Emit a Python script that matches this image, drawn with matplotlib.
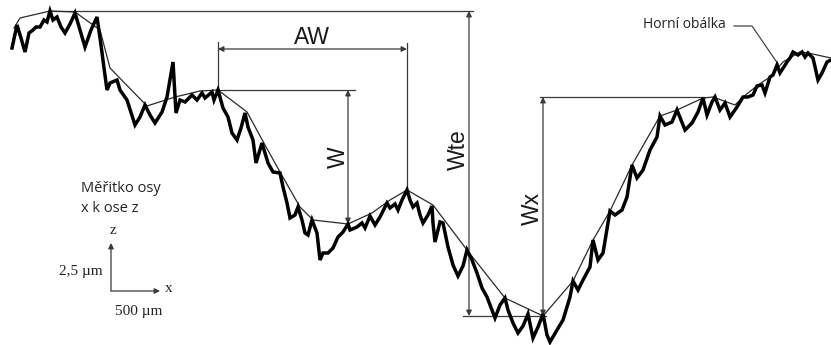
import matplotlib
matplotlib.use("Agg")
import matplotlib.pyplot as plt

# Measured surface profile (x along the trace, z as depth below the top of the sheet)
profile_x = [12, 17, 21, 25, 29, 33, 36, 40, 44, 47, 50, 53, 57, 61, 65, 70, 75, 80, 85, 91,
             97, 101, 104, 107, 110, 117, 120, 127, 135, 140, 145, 150, 155, 162, 167, 173, 176,
             180, 185, 192, 197, 202, 205, 212, 214, 218, 223, 228, 232, 237, 241, 245, 248, 253,
             256, 262, 268, 273, 280, 283, 287, 290, 295, 298, 302, 305, 308, 312, 317, 320, 323,
             328, 333, 338, 343, 348, 350, 357, 362, 365, 370, 375, 380, 387, 390, 395, 398, 402,
             407, 410, 413, 417, 420, 423, 428, 432, 433, 435, 440, 443, 448, 453, 458, 463, 467,
             472, 477, 482, 487, 492, 495, 500, 505, 508, 513, 518, 523, 528, 533, 538, 543, 547,
             550, 557, 563, 570, 573, 578, 583, 590, 593, 598, 603, 610, 615, 622, 627, 632, 637,
             643, 650, 657, 660, 665, 672, 677, 685, 692, 698, 703, 707, 712, 715, 720, 725, 730,
             737, 743, 748, 753, 757, 762, 765, 770, 773, 777, 780, 787, 790, 793, 798, 802, 805,
             808, 813, 818, 822, 827, 831]
profile_z = [48, 25, 38, 52, 33, 30, 27, 27, 20, 22, 11, 20, 17, 27, 33, 24, 13, 30, 47, 30,
             17, 45, 68, 90, 83, 80, 90, 100, 125, 117, 105, 115, 123, 112, 97, 62, 113,
             100, 102, 95, 100, 93, 98, 92, 100, 90, 108, 117, 133, 140, 128, 113, 127, 140,
             163, 143, 163, 172, 173, 187, 203, 218, 215, 207, 220, 233, 235, 220, 233, 260, 253,
             253, 248, 237, 232, 224, 230, 227, 223, 228, 216, 225, 217, 203, 208, 204, 210, 200,
             190, 200, 207, 203, 215, 223, 215, 206, 223, 242, 222, 223, 247, 265, 276, 266, 250,
             260, 273, 288, 297, 310, 318, 305, 298, 310, 323, 333, 326, 314, 338, 327, 314, 335,
             342, 330, 320, 297, 281, 290, 280, 267, 240, 260, 253, 211, 215, 210, 197, 165, 178,
             170, 150, 137, 116, 125, 122, 110, 130, 123, 112, 98, 115, 102, 97, 110, 103, 117,
             107, 97, 97, 95, 86, 85, 93, 77, 75, 65, 73, 62, 58, 52, 55, 52, 57,
             53, 58, 80, 73, 62, 60]

# Upper envelope of the profile
envelope_x = [14, 20, 50, 75, 100, 110, 147, 175, 200, 218, 247, 265, 280, 300, 313, 348, 372,
              390, 407, 433, 467, 505, 543, 573, 593, 610, 632, 660, 677, 703, 713, 735, 743,
              758, 770, 783, 800, 808, 831]
envelope_z = [28, 18, 11, 12, 30, 68, 106, 97, 91, 90, 112, 145, 172, 207, 220, 224, 213,
              200, 190, 205, 250, 298, 316, 281, 240, 211, 165, 116, 110, 98, 97, 105, 97,
              85, 77, 62, 52, 53, 58]

# Waviness dimensions (envelope reference levels and positions)
wte_top, wte_bottom, wte_x = 11, 316, 469
aw_left, aw_right, aw_level = 218, 407, 49
w_top, w_bottom, w_x = 90, 224, 348
wx_top, wx_bottom, wx_x = 97, 316, 543

dim_color = "#3a3a3a"
dim_lw = 0.9

fig = plt.figure(figsize=(8.31, 3.45), dpi=100)
ax = fig.add_axes([0, 0, 1, 1])
ax.set_xlim(0, 831)
ax.set_ylim(345, 0)
ax.axis("off")

ax.plot(envelope_x, envelope_z, color="#2a2a2a", lw=0.9, zorder=2)
ax.plot(profile_x, profile_z, color="black", lw=2.5, solid_joinstyle="miter", zorder=3)


def line(xs, ys):
    ax.plot(xs, ys, color=dim_color, lw=dim_lw, zorder=1)


def double_arrow(p1, p2):
    ax.annotate("", xy=p1, xytext=p2,
                arrowprops=dict(arrowstyle="<|-|>", color=dim_color, lw=dim_lw,
                                mutation_scale=8, shrinkA=0, shrinkB=0), zorder=1)


def single_arrow(start, end):
    ax.annotate("", xy=end, xytext=start,
                arrowprops=dict(arrowstyle="-|>", color=dim_color, lw=dim_lw,
                                mutation_scale=8, shrinkA=0, shrinkB=0), zorder=1)


# Wte: total height of the waviness envelope
line([50, wte_x + 4], [wte_top, wte_top])
line([463, wx_x + 3], [wte_bottom, wte_bottom])
double_arrow((wte_x, wte_top), (wte_x, wte_bottom))

# AW: mean width of the motifs
line([aw_left, aw_left], [42, w_top])
line([aw_right, aw_right], [43, envelope_z[envelope_x.index(aw_right)]])
double_arrow((aw_left, aw_level), (aw_right, aw_level))

# W: depth of the motif
line([aw_left, 355], [w_top, w_top])
double_arrow((w_x, w_top), (w_x, w_bottom))

# Wx: largest motif depth
line([540, 705], [wx_top, wx_top])
double_arrow((wx_x, wx_top), (wx_x, wx_bottom))

label_font = dict(family="Liberation Sans", fontsize=16.5, color="#1a1a1a")
ax.text(312, 38, "AW", ha="center", va="center", **label_font)
ax.text(338, 157, "W", ha="center", va="center", rotation=90, **label_font)
ax.text(458, 150, "Wte", ha="center", va="center", rotation=90, **label_font)
ax.text(532, 208, "Wx", ha="center", va="center", rotation=90, **label_font)

# Envelope callout
ax.text(684, 25, "Horní obálka", ha="center", va="center", family="Open Sans",
        fontsize=10, color="#222222")
ax.plot([734, 752, 778], [26, 26, 64], color="#444444", lw=0.9)

# Axis scale legend
ax.text(81, 188, "Měřitko osy", ha="left", va="center", family="Open Sans",
        fontsize=10.5, color="#222222")
ax.text(81, 208, "x k ose z", ha="left", va="center", family="Open Sans",
        fontsize=10.5, color="#222222")
single_arrow((111, 291), (111, 243))
single_arrow((111, 291), (160, 291))
serif = dict(family="Liberation Serif", fontsize=11, color="#222222")
ax.text(113, 231, "z", ha="center", va="center", **serif)
ax.text(169, 288, "x", ha="center", va="center", **serif)
ax.text(103, 272, "2,5 µm", ha="right", va="center", **serif)
ax.text(139, 312, "500 µm", ha="center", va="center", **serif)

fig.savefig("out.png", dpi=100, facecolor="white")
